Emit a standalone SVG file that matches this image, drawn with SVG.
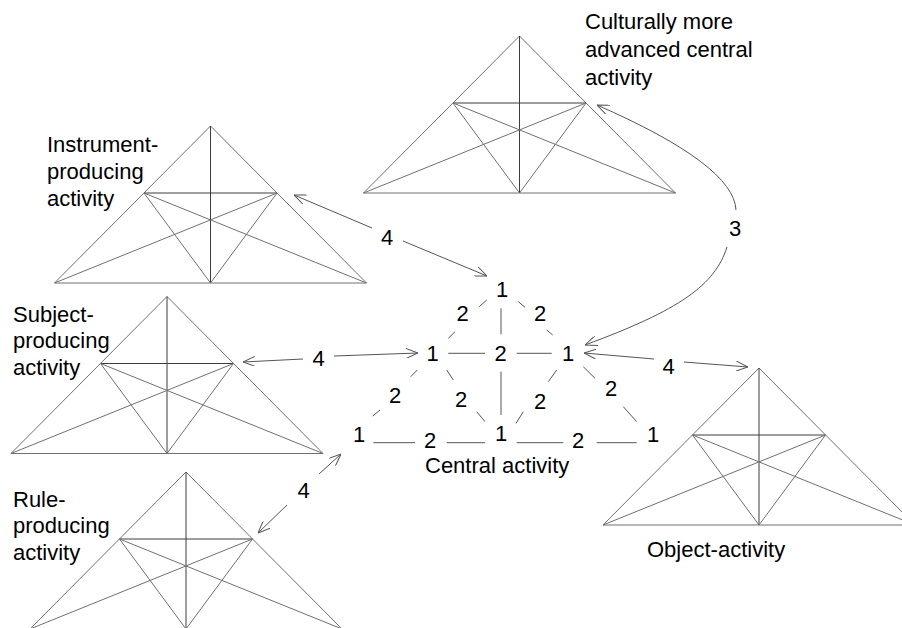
<svg xmlns="http://www.w3.org/2000/svg" xmlns:xlink="http://www.w3.org/1999/xlink" width="902" height="628" viewBox="0 0 902 628">
<style>
  .lbl { font-family: "Liberation Sans", Arial, sans-serif; font-size: 22px; fill: #000; }
  .num { font-family: "Liberation Sans", Arial, sans-serif; font-size: 22px; fill: #000; text-anchor: middle; }
  .out { stroke: #707070; stroke-width: 1; fill: none; }
  .inn { stroke: #3c3c3c; stroke-width: 1; fill: none; }
  .seg { stroke: #555; stroke-width: 1; fill: none; }
  .arr { stroke: #555; stroke-width: 1; fill: none; marker-end: url(#ah); }
</style>
<defs>
  <marker id="ah" viewBox="0 0 12 10" refX="12" refY="5" markerWidth="12" markerHeight="10" markerUnits="userSpaceOnUse" orient="auto">
    <path d="M0,0 L12,5 L0,10" fill="none" stroke="#555" stroke-width="1"/>
  </marker>
  <g id="tri">
    <path class="out" d="M0,0 L-156,157 L156,157 Z"/>
    <path class="inn" d="M0,0 L0,157 M-66.5,67 L66.5,67"/>
    <path class="out" d="M-66.5,67 L156,157 M66.5,67 L-156,157 M-66.5,67 L0,157 L66.5,67"/>
  </g>
</defs>
<rect width="902" height="628" fill="#fff"/>

<g id="cultural">
  <use xlink:href="#tri" href="#tri" transform="translate(519.5,36)"/>
  <text class="lbl" x="585" y="29">Culturally more</text>
  <text class="lbl" x="585" y="57">advanced central</text>
  <text class="lbl" x="585" y="85">activity</text>
</g>

<g id="instrument">
  <use xlink:href="#tri" href="#tri" transform="translate(210.5,126)"/>
  <text class="lbl" x="47" y="152">Instrument-</text>
  <text class="lbl" x="47" y="179">producing</text>
  <text class="lbl" x="47" y="206">activity</text>
</g>

<g id="subject">
  <use xlink:href="#tri" href="#tri" transform="translate(167,296.5)"/>
  <text class="lbl" x="13" y="322">Subject-</text>
  <text class="lbl" x="13" y="348">producing</text>
  <text class="lbl" x="13" y="375">activity</text>
</g>

<g id="rule">
  <use xlink:href="#tri" href="#tri" transform="translate(186,472)"/>
  <text class="lbl" x="13" y="507">Rule-</text>
  <text class="lbl" x="13" y="533">producing</text>
  <text class="lbl" x="13" y="560">activity</text>
</g>

<g id="object">
  <use xlink:href="#tri" href="#tri" transform="translate(759,368)"/>
  <text class="lbl" x="647" y="557">Object-activity</text>
</g>

<g id="central">
  <path class="seg" d="M486.7,300 L479.3,306.7 M455,331.7 L448.3,338.3
    M518.3,301.7 L525,307.3 M546.7,330 L552.7,335
    M501,308.3 L501,334.3 M501,371.7 L501,415
    M448.3,353.3 L485,353.3 M516.7,353.3 L551.7,353.3
    M417.3,370 L410.7,376.7 M380,410 L372.7,416
    M446.7,370 L453.3,380 M476.7,411.7 L485,421.7
    M556.7,370 L548.3,381.7 M523.3,411.7 L516,423.3
    M583.3,366.7 L595,378.3 M623.3,406.7 L636.7,421.7
    M373.3,442.7 L415,442.7 M446.7,442.7 L485,442.7
    M516.7,442.7 L563.3,442.7 M596.7,442.7 L636.7,442.7"/>
  <text class="num" x="502" y="297">1</text>
  <text class="num" x="462.5" y="321">2</text>
  <text class="num" x="540" y="321">2</text>
  <text class="num" x="432.5" y="361">1</text>
  <text class="num" x="500.5" y="361">2</text>
  <text class="num" x="568" y="361">1</text>
  <text class="num" x="395" y="403">2</text>
  <text class="num" x="461" y="407">2</text>
  <text class="num" x="540" y="409">2</text>
  <text class="num" x="611" y="396">2</text>
  <text class="num" x="359" y="442">1</text>
  <text class="num" x="430" y="448">2</text>
  <text class="num" x="501" y="441">1</text>
  <text class="num" x="578" y="448">2</text>
  <text class="num" x="653" y="442">1</text>
  <text class="lbl" x="425" y="473">Central activity</text>
</g>

<g id="connectors">
  <path class="arr" d="M372,228 L294,195"/>
  <path class="arr" d="M403,241 L487,276"/>
  <text class="num" x="387" y="245">4</text>
  <path class="arr" d="M303,359 L243,362"/>
  <path class="arr" d="M334,356 L418,353"/>
  <text class="num" x="318.5" y="366">4</text>
  <path class="arr" d="M319,474 L341,454"/>
  <path class="arr" d="M287,505 L258,533"/>
  <text class="num" x="303.5" y="498">4</text>
  <path class="arr" d="M654,359 L584,353"/>
  <path class="arr" d="M684,362 L748,367"/>
  <text class="num" x="668.5" y="374">4</text>
  <path class="arr" d="M736,210 Q734,165 597,105"/>
  <path class="arr" d="M727,247 C715,285 680,310 585,345"/>
  <text class="num" x="735" y="236">3</text>
</g>
</svg>
